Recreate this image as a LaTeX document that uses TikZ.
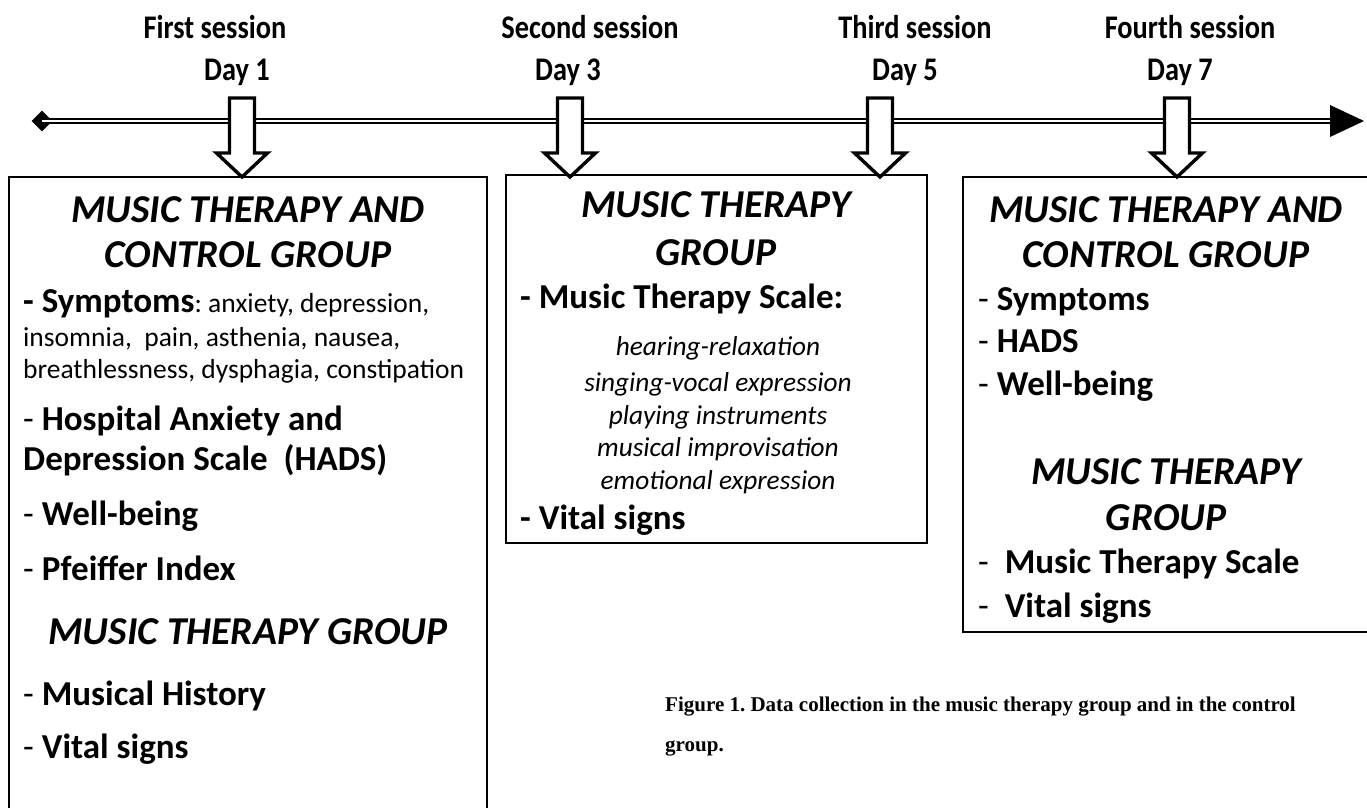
\documentclass[tikz,border=0pt]{standalone}
\usepackage{fontspec}
\setmainfont{Carlito}
\newfontfamily\capfont{Liberation Serif}
\usetikzlibrary{shapes.geometric}
\frenchspacing
\tikzset{
  x=1pt,y=-1pt,
  grp/.style={font=\fontsize{39.5}{46}\selectfont\bfseries\itshape, anchor=base, inner sep=0},
  itm/.style={font=\fontsize{35}{40}\selectfont, anchor=base west, inner sep=0},
  sml/.style={font=\fontsize{27.5}{32}\selectfont, anchor=base west, inner sep=0},
  lst/.style={font=\fontsize{27.3}{32}\selectfont\itshape, anchor=base, inner sep=0},
  tl/.style={font=\fontsize{33}{38}\selectfont\bfseries, anchor=base, inner sep=0, xscale=0.86},
  captxt/.style={font=\capfont\bfseries\fontsize{21}{26}\selectfont, anchor=base west, inner sep=0},
  panel/.style={draw, line width=1.4pt},
  barrow/.style={draw, fill=white, line width=3.4pt, line join=miter},
  tline/.style={double, double distance=2pt, line width=1.6pt}
}
\newcommand{\downarr}[1]{%
  \path[barrow] (#1-12.5,98) -- (#1+12.5,98) -- (#1+12.5,153) -- (#1+25.5,153)
    -- (#1,177) -- (#1-25.5,153) -- (#1-12.5,153) -- cycle;}
\begin{document}
\begin{tikzpicture}
\useasboundingbox (0,0) rectangle (1367,807);
% timeline
\node[diamond, fill, minimum width=21, minimum height=21, inner sep=0] (start) at (42,121) {};
\coordinate (tend) at (1333,121);
\draw[tline] (start.center) -- (tend);
\fill (1330,105) -- (1364,121) -- (1330,137) -- cycle;
% session labels
\node[tl] (s1) at (215,38.5) {First session};
\node[tl] (d1) at (237,80.5) {Day 1};
\node[tl] (s2) at (590,38.5) {Second session};
\node[tl] (d2) at (568,80.5) {Day 3};
\node[tl] (s3) at (915,38.5) {Third session};
\node[tl] (d3) at (905,80.5) {Day 5};
\node[tl] (s4) at (1190,38.5) {Fourth session};
\node[tl] (d4) at (1180,80.5) {Day 7};
% block arrows
\downarr{242}
\downarr{570}
\downarr{880}
\downarr{1177}
% panels
\draw[panel] (9,830) -- (9,177) -- (487,177) -- (487,830);
\draw[panel] (506,175) rectangle (927,543);
\draw[panel] (1375,177) -- (963,177) -- (963,632) -- (1375,632);
% left panel
\node[grp] (l1) at (248,222.5) {MUSIC THERAPY AND};
\node[grp] (l2) at (248,267.5) {CONTROL GROUP};
\node[itm] (l3) at (23,312.6) {\textbf{- Symptoms}{\fontsize{27.5}{32}\selectfont: anxiety, depression,}};
\node[sml] (l4) at (23,346) {insomnia,~ pain, asthenia, nausea,};
\node[sml] (l5) at (23,378) {breathlessness, dysphagia, constipation};
\node[itm] (l6) at (23,430.6) {- \textbf{Hospital Anxiety and}};
\node[itm] (l7) at (23,470.6) {\textbf{Depression Scale~ (HADS)}};
\node[itm] (l8) at (23,525.6) {- \textbf{Well-being}};
\node[itm] (l9) at (23,580.6) {- \textbf{Pfeiffer Index}};
\node[grp] (l10) at (248,644.5) {MUSIC THERAPY GROUP};
\node[itm] (l11) at (23,705.6) {- \textbf{Musical History}};
\node[itm] (l12) at (23,758.6) {- \textbf{Vital signs}};
% middle panel
\node[grp] (m1) at (716,217.5) {MUSIC THERAPY};
\node[grp] (m2) at (716,265.5) {GROUP};
\node[itm] (m3) at (520,308.6) {\textbf{- Music Therapy Scale:}};
\node[lst] (m4) at (718,355) {hearing-relaxation};
\node[lst] (m5) at (718,391) {singing-vocal expression};
\node[lst] (m6) at (718,424) {playing instruments};
\node[lst] (m7) at (718,456) {musical improvisation};
\node[lst] (m8) at (718,489) {emotional expression};
\node[itm] (m9) at (520,529) {\textbf{- Vital signs}};
% right panel
\node[grp] (r1) at (1166,222.5) {MUSIC THERAPY AND};
\node[grp] (r2) at (1166,267.5) {CONTROL GROUP};
\node[itm] (r3) at (978,310.6) {- \textbf{Symptoms}};
\node[itm] (r4) at (978,352.6) {- \textbf{HADS}};
\node[itm] (r5) at (978,395.6) {- \textbf{Well-being}};
\node[grp] (r6) at (1166,484.5) {MUSIC THERAPY};
\node[grp] (r7) at (1166,530.5) {GROUP};
\node[itm] (r8) at (978,573.6) {-~ \textbf{Music Therapy Scale}};
\node[itm] (r9) at (978,617.6) {-~ \textbf{Vital signs}};
% caption
\node[captxt] (c1) at (665,711) {Figure 1. Data collection in the music therapy group and in the control};
\node[captxt] (c2) at (665,751) {group.};
\end{tikzpicture}
\end{document}
